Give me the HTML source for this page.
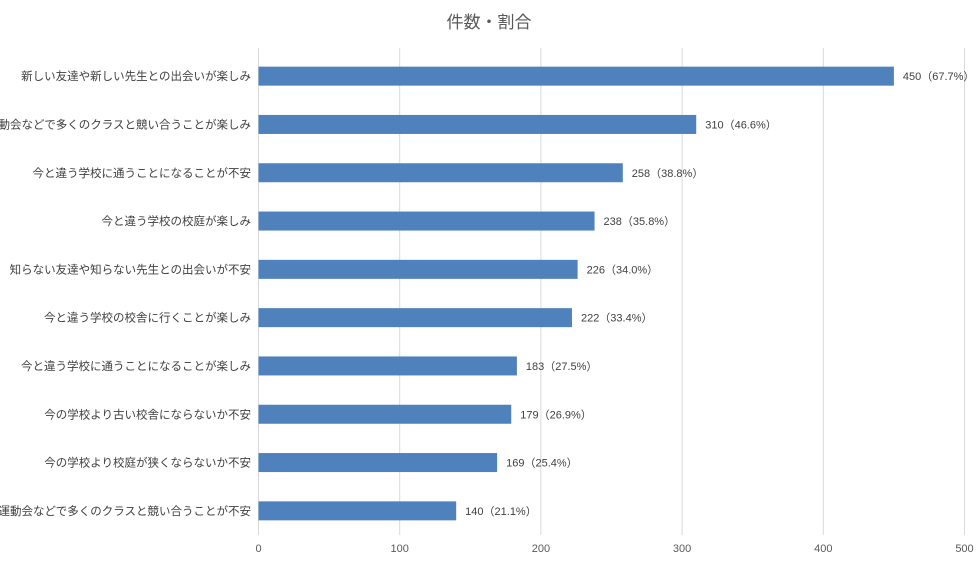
<!DOCTYPE html>
<html><head><meta charset="utf-8"><style>
body{margin:0;background:#fff;font-family:"Liberation Sans","Noto Sans CJK JP",sans-serif;}
svg text{font-family:"Liberation Sans","Noto Sans CJK JP",sans-serif;}
</style></head><body>
<svg id="chart" width="979" height="583" xmlns="http://www.w3.org/2000/svg">
<text x="489" y="28" text-anchor="middle" font-size="17" fill="#595959">件数・割合</text>
<g id="grid"></g><g id="bars"></g><g id="labels"></g><g id="ticks"></g>
</svg>
<script>
const categories=["新しい友達や新しい先生との出会いが楽しみ","運動会などで多くのクラスと競い合うことが楽しみ","今と違う学校に通うことになることが不安","今と違う学校の校庭が楽しみ","知らない友達や知らない先生との出会いが不安","今と違う学校の校舎に行くことが楽しみ","今と違う学校に通うことになることが楽しみ","今の学校より古い校舎にならないか不安","今の学校より校庭が狭くならないか不安","運動会などで多くのクラスと競い合うことが不安"];
const counts=[450,310,258,238,226,222,183,179,169,140];
const percents=["67.7%","46.6%","38.8%","35.8%","34.0%","33.4%","27.5%","26.9%","25.4%","21.1%"];
const tickValues=[0,100,200,300,400,500];
const NS="http://www.w3.org/2000/svg";
const x0=258.5,x1=964.5,vmax=500,plotTop=52,plotBottom=535;
const xs=v=>x0+(v/vmax)*(x1-x0);
const band=(plotBottom-plotTop)/categories.length;
const yc=i=>plotTop+band*(i+0.5);
function mk(tag,attrs,parent){const e=document.createElementNS(NS,tag);for(const k in attrs)e.setAttribute(k,attrs[k]);document.getElementById(parent).appendChild(e);return e;}
tickValues.forEach(t=>{
 const l=mk('line',{x1:xs(t),x2:xs(t),y1:48,y2:plotBottom,stroke:'#d9d9d9','stroke-width':1},'grid');
 
 
 const tx=mk('text',{x:xs(t),y:552,'text-anchor':'middle','font-size':11,fill:'#595959'},'ticks');
 tx.textContent=t;
 
 
});
categories.forEach((c,i)=>{
 const y=yc(i);
 const r=mk('rect',{x:x0,y:y-9.5,width:xs(counts[i])-x0,height:19,fill:'#4f81bd'},'bars');
 
 
 const lab=mk('text',{x:251,y:y+4,'text-anchor':'end','font-size':11.5,fill:'#404040'},'labels');
 lab.textContent=c;
 
 
 const v=mk('text',{x:xs(counts[i])+9,y:y+4,'font-size':11,fill:'#404040'},'labels');
 v.textContent=counts[i]+"（"+percents[i]+"）";
 
 
});
</script>
</body></html>
